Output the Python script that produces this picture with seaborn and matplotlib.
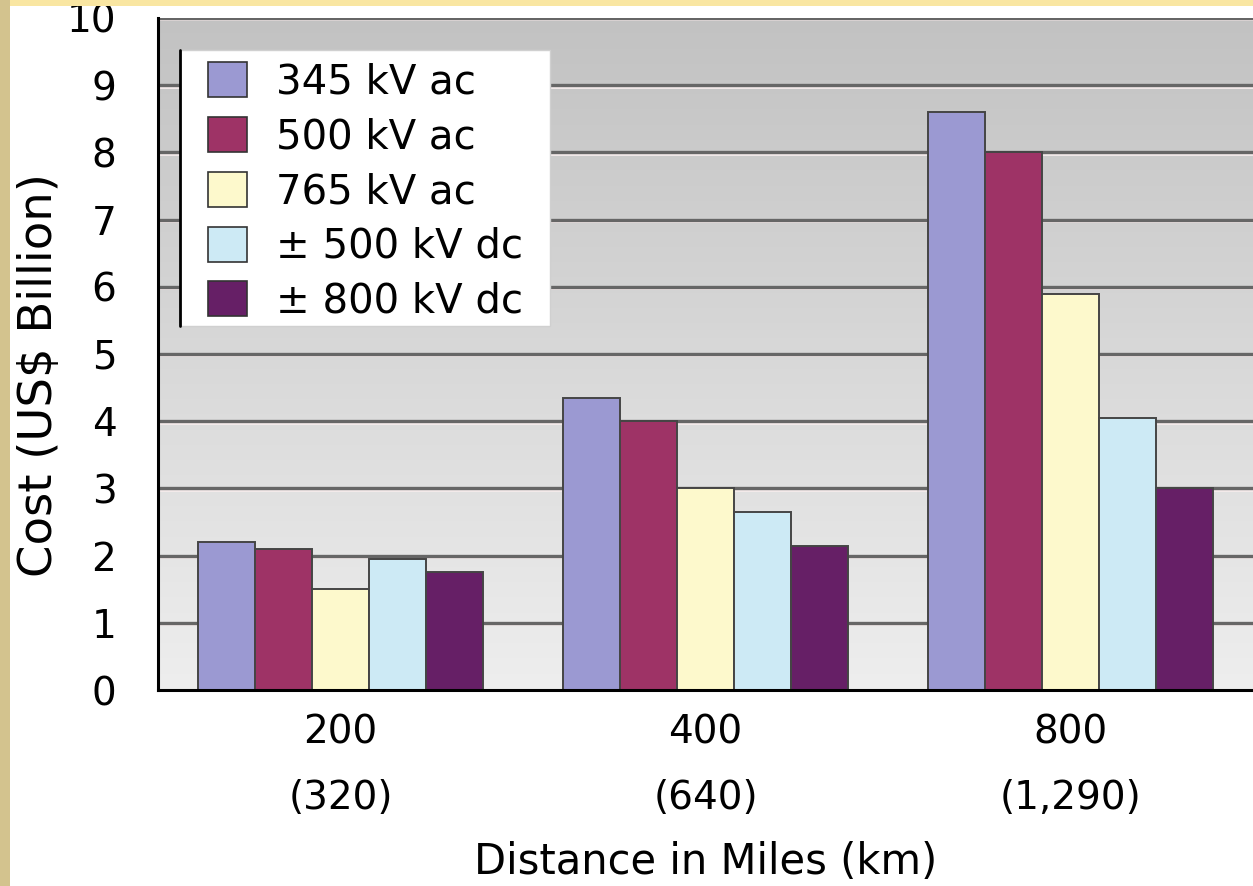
import numpy as np
import pandas as pd
import matplotlib
matplotlib.use("Agg")
import matplotlib.pyplot as plt
import matplotlib.transforms as mtransforms
from matplotlib.patches import Rectangle
from matplotlib.lines import Line2D
import seaborn as sns

# ---- data -------------------------------------------------------------
distances = ["200\n(320)", "400\n(640)", "800\n(1,290)"]
line_types = ["345 kV ac", "500 kV ac", "765 kV ac", "\u00b1 500 kV dc", "\u00b1 800 kV dc"]
cost_345_ac = [2.2, 4.35, 8.6]
cost_500_ac = [2.1, 4.0, 8.0]
cost_765_ac = [1.5, 3.0, 5.9]
cost_500_dc = [1.95, 2.65, 4.05]
cost_800_dc = [1.75, 2.15, 3.0]
bar_colors = ["#9b99d2", "#9e3366", "#fdf9cc", "#cdeaf5", "#661f66"]

series = [cost_345_ac, cost_500_ac, cost_765_ac, cost_500_dc, cost_800_dc]
df = pd.DataFrame(
    [(d, lt, v) for lt, vals in zip(line_types, series) for d, v in zip(distances, vals)],
    columns=["distance", "line", "cost"],
)

# ---- figure ------------------------------------------------------------
W, H = 1253, 886
sns.set_theme(style="white")
plt.rcParams["font.family"] = ["DejaVu Sans"]
plt.rcParams["text.color"] = "black"
plt.rcParams["axes.labelcolor"] = "black"
plt.rcParams["xtick.color"] = "black"
plt.rcParams["ytick.color"] = "black"
fig = plt.figure(figsize=(W / 100, H / 100), dpi=100)
fig.patch.set_facecolor("white")

ax_left, ax_right, ax_top, ax_bottom = 158, W, 18, 690
ax_w, ax_h = ax_right - ax_left, ax_bottom - ax_top
ax = fig.add_axes([ax_left / W, (H - ax_bottom) / H, ax_w / W, ax_h / H])


def px_to_axes(x, y):
    """Figure pixel (from top-left) to axes fraction."""
    return (x - ax_left) / ax_w, (ax_bottom - y) / ax_h


# vertical grey gradient behind the plot area
grad = np.linspace(0, 1, 256).reshape(-1, 1)
cmap = matplotlib.colors.LinearSegmentedColormap.from_list("bg", ["#c2c2c2", "#eeeeee"])
ax.imshow(grad, cmap=cmap, extent=[0, 1, 0, 1], transform=ax.transAxes,
          aspect="auto", zorder=0, origin="upper")

sns.barplot(data=df, x="distance", y="cost", hue="line", palette=bar_colors,
            saturation=1, width=0.78, gap=0, edgecolor="#454545", linewidth=1.4,
            ax=ax, zorder=3, legend=True)

ax.set_ylim(0, 10)
cat_px = 367
ax.set_xlim(-0.5, -0.5 + ax_w / cat_px)

# horizontal gridlines with a light highlight beneath each one
ytrans = ax.get_yaxis_transform()
light_off = mtransforms.offset_copy(ytrans, fig=fig, x=0, y=-2.4, units="dots")
for yv in range(1, 11):
    ax.add_line(Line2D([0, 1], [yv, yv], transform=light_off,
                       color="#f6ecec", lw=1.3, zorder=1.5))
    ax.add_line(Line2D([0, 1], [yv, yv], transform=ytrans,
                       color="#666666", lw=2.4, zorder=2))

# axes styling
for s in ["top", "right"]:
    ax.spines[s].set_visible(False)
for s in ["left", "bottom"]:
    ax.spines[s].set_color("black")
    ax.spines[s].set_linewidth(2.2)
    ax.spines[s].set_zorder(5)

ax.set_yticks(range(0, 11))
ax.set_yticklabels([str(v) for v in range(0, 11)], fontsize=28)
ax.tick_params(axis="y", direction="out", length=10, width=2, color="black", pad=20)

# category boundaries carry tick marks; labels sit at the category centres
ax.set_xticks([-0.5, 0.5, 1.5, 2.5])
ax.set_xticklabels([])
ax.set_xticks(range(len(distances)), minor=True)
ax.set_xticklabels(distances, minor=True, fontsize=28, linespacing=1.9)
ax.tick_params(axis="x", which="major", direction="out", length=10, width=2, color="black")
ax.tick_params(axis="x", which="minor", length=0, pad=17)

ax.set_xlabel("Distance in Miles (km)", fontsize=30)
ax.set_ylabel("Cost (US$ Billion)", fontsize=33.5)
ax.yaxis.set_label_coords((62 - ax_left) / ax_w, (ax_bottom - 375) / ax_h)
ax.xaxis.set_label_coords(0.5, (ax_bottom - 841) / ax_h)

# legend: white panel with a dark left edge, entries placed inside it
box_x0, box_y0, box_x1, box_y1 = 180, 50, 550, 326
ax.add_patch(Rectangle(px_to_axes(box_x0, box_y1),
                       (box_x1 - box_x0) / ax_w, (box_y1 - box_y0) / ax_h,
                       transform=ax.transAxes, facecolor="white",
                       edgecolor="#d0d0d0", lw=1.0, zorder=6))
ax.add_line(Line2D([px_to_axes(box_x0, 0)[0]] * 2,
                   [px_to_axes(0, box_y1)[1], px_to_axes(0, box_y0)[1]],
                   transform=ax.transAxes, color="black", lw=2.0, zorder=7))

leg = ax.legend(loc="upper left", bbox_to_anchor=px_to_axes(208, 62),
                borderaxespad=0, borderpad=0, fontsize=29, frameon=False,
                handlelength=0.96, handleheight=0.96, handletextpad=0.72,
                labelspacing=0.36)
leg.set_zorder(8)
for h in leg.legend_handles:
    h.set_edgecolor("#333333")
    h.set_linewidth(1.2)

# decorative border strips of the slide
fig.patches.append(Rectangle((0, (H - 6) / H), 1, 6 / H, transform=fig.transFigure,
                             facecolor="#f9e6a2", edgecolor="none", zorder=0))
fig.patches.append(Rectangle((0, 0), 10 / W, 1, transform=fig.transFigure,
                             facecolor="#d3c38e", edgecolor="none", zorder=0))

fig.savefig("out.png", dpi=100, facecolor="white")
